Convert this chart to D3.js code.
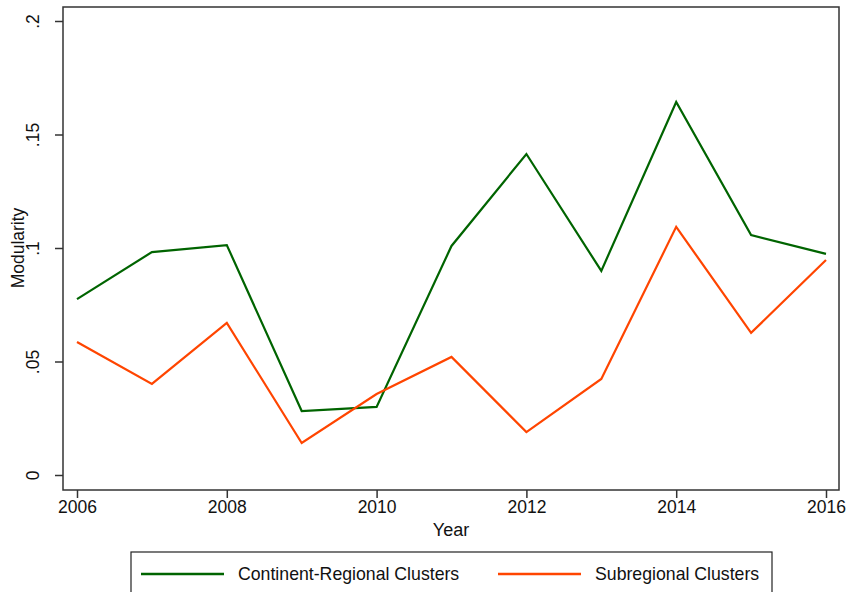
<!DOCTYPE html>
<html><head><meta charset="utf-8">
<script src="https://cdn.jsdelivr.net/npm/d3@7"></script>
<style>body{margin:0;background:#fff}svg{display:block}text{font-family:"Liberation Sans",Arial,sans-serif;fill:#111}</style>
</head><body>
<script>
const years = [2006,2007,2008,2009,2010,2011,2012,2013,2014,2015,2016];
const continentRegional = [0.0775,0.0982,0.1013,0.0282,0.0300,0.1009,0.1414,0.0899,0.1643,0.1057,0.0974];
const subregional = [0.0586,0.0401,0.0670,0.0141,0.0357,0.0520,0.0189,0.0423,0.1093,0.0626,0.0947];
const yTicks = [0,0.05,0.1,0.15,0.2];
const yTickLabels = ["0",".05",".1",".15",".2"];
const xTicks = [2006,2008,2010,2012,2014,2016];
const seriesNames = ["Continent-Regional Clusters","Subregional Clusters"];
const seriesColors = ["#006400","#ff4500"];

const W=848,H=592;
const svg=d3.select("body").append("svg").attr("width",W).attr("height",H);
const frame={l:63,t:7,r:839,b:490};
const x=d3.scaleLinear().domain([2006,2016]).range([77,826]);
const y=d3.scaleLinear().domain([0,0.2]).range([475,21]);

svg.append("rect").attr("x",frame.l).attr("y",frame.t).attr("width",frame.r-frame.l).attr("height",frame.b-frame.t)
  .attr("fill","none").attr("stroke","#333").attr("stroke-width",1.5);

// y axis
const ya=svg.append("g").attr("transform",`translate(${frame.l},0)`)
  .call(d3.axisLeft(y).tickValues(yTicks).tickFormat((d,i)=>yTickLabels[i]).tickSize(8).tickPadding(0));
ya.select(".domain").remove();
ya.selectAll(".tick line").attr("stroke","#333").attr("stroke-width",1.5);
ya.selectAll(".tick text").attr("transform","rotate(-90)").attr("x",0).attr("y",-24).attr("dy","0")
  .attr("text-anchor","middle").style("font-size","17.5px").attr("font-family",null);

// x axis
const xa=svg.append("g").attr("transform",`translate(0,${frame.b})`)
  .call(d3.axisBottom(x).tickValues(xTicks).tickFormat(d3.format("d")).tickSize(8).tickPadding(3));
xa.select(".domain").remove();
xa.selectAll(".tick line").attr("stroke","#333").attr("stroke-width",1.5);
xa.selectAll(".tick text").style("font-size","17.5px").attr("font-family",null);

svg.append("text").attr("x",451).attr("y",536).attr("text-anchor","middle").style("font-size","18px").text("Year");
svg.append("text").attr("transform","translate(24,248) rotate(-90)").attr("text-anchor","middle").style("font-size","17.5px").text("Modularity");

const line=d3.line().x((d,i)=>x(years[i])).y(d=>y(d));
[continentRegional,subregional].forEach((s,k)=>{
  svg.append("path").datum(s).attr("d",line).attr("fill","none").attr("stroke",seriesColors[k]).attr("stroke-width",2.2);
});

// legend
svg.append("rect").attr("x",131).attr("y",552).attr("width",641).attr("height",60).attr("fill","#fff").attr("stroke","#222").attr("stroke-width",1.2);
const lx=[141,498];
seriesNames.forEach((n,k)=>{
  svg.append("line").attr("x1",lx[k]).attr("x2",lx[k]+83).attr("y1",574).attr("y2",574).attr("stroke",seriesColors[k]).attr("stroke-width",2.5);
  svg.append("text").attr("x",lx[k]+97).attr("y",580).style("font-size","17.7px").text(n);
});
</script>
</body></html>
